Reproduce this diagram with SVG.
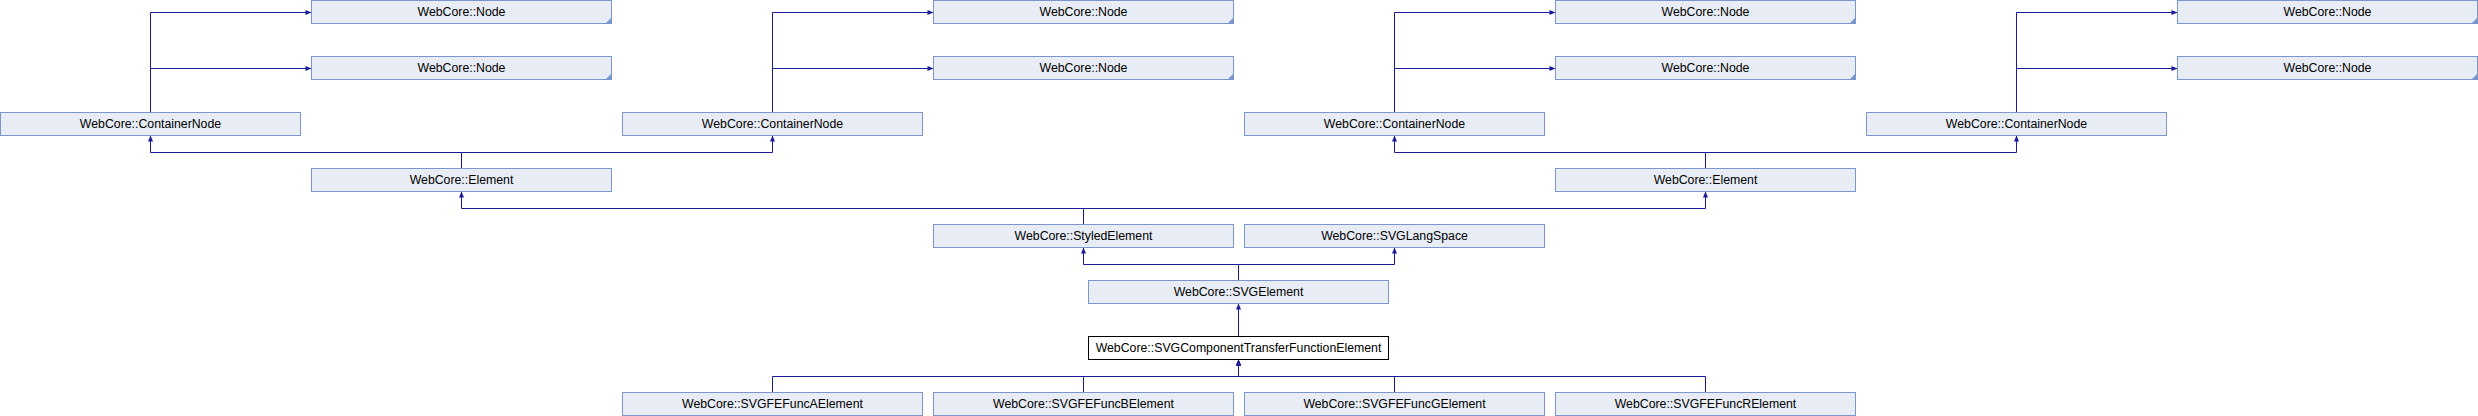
<svg xmlns="http://www.w3.org/2000/svg" width="2478" height="416" viewBox="0 0 2478 416">
<style>
.n rect{fill:#e8ecf5;stroke:#7b95cd;stroke-width:1}
.n.main rect{fill:#ffffff;stroke:#000000}
.n polygon{fill:#7b95cd}
.n text{font-family:"Liberation Sans",Arial,sans-serif;font-size:12.3px;fill:#000;text-anchor:middle}
#edges path{fill:none;stroke:#1a1a9a;stroke-width:1;marker-end:url(#arr)}
</style>
<defs>
<marker id="arr" markerUnits="userSpaceOnUse" markerWidth="7" markerHeight="6" refX="6" refY="2.5" orient="auto" overflow="visible">
<path d="M0,0 L6,2.5 L0,5 z" fill="#1a1a9a"/>
</marker>
</defs>
<rect x="0" y="0" width="2478" height="416" fill="#ffffff"/>
<g id="edges">
<path d="M150.5,112.5 V12.5 H311.5"/>
<path d="M150.5,112.5 V68.5 H311.5"/>
<path d="M772.5,112.5 V12.5 H933.5"/>
<path d="M772.5,112.5 V68.5 H933.5"/>
<path d="M1394.5,112.5 V12.5 H1555.5"/>
<path d="M1394.5,112.5 V68.5 H1555.5"/>
<path d="M2016.5,112.5 V12.5 H2177.5"/>
<path d="M2016.5,112.5 V68.5 H2177.5"/>
<path d="M461.5,168.5 V152.5 H150.5 V135.5"/>
<path d="M461.5,168.5 V152.5 H772.5 V135.5"/>
<path d="M1705.5,168.5 V152.5 H1394.5 V135.5"/>
<path d="M1705.5,168.5 V152.5 H2016.5 V135.5"/>
<path d="M1083.5,224.5 V208.5 H461.5 V191.5"/>
<path d="M1083.5,224.5 V208.5 H1705.5 V191.5"/>
<path d="M1238.5,280.5 V264.5 H1083.5 V247.5"/>
<path d="M1238.5,280.5 V264.5 H1394.5 V247.5"/>
<path d="M1238.5,336.5 V303.5"/>
<path d="M772.5,392.5 V376.5 H1238.5 V359.5"/>
<path d="M1083.5,392.5 V376.5 H1238.5 V359.5"/>
<path d="M1394.5,392.5 V376.5 H1238.5 V359.5"/>
<path d="M1705.5,392.5 V376.5 H1238.5 V359.5"/>
</g>
<g id="node1" class="n"><rect x="311.5" y="0.5" width="300" height="23"/><polygon points="611.5,17.5 611.5,23.5 605.5,23.5"/><text x="461.5" y="16">WebCore::Node</text></g>
<g id="node2" class="n"><rect x="311.5" y="56.5" width="300" height="23"/><polygon points="611.5,73.5 611.5,79.5 605.5,79.5"/><text x="461.5" y="72">WebCore::Node</text></g>
<g id="node3" class="n"><rect x="933.5" y="0.5" width="300" height="23"/><polygon points="1233.5,17.5 1233.5,23.5 1227.5,23.5"/><text x="1083.5" y="16">WebCore::Node</text></g>
<g id="node4" class="n"><rect x="933.5" y="56.5" width="300" height="23"/><polygon points="1233.5,73.5 1233.5,79.5 1227.5,79.5"/><text x="1083.5" y="72">WebCore::Node</text></g>
<g id="node5" class="n"><rect x="1555.5" y="0.5" width="300" height="23"/><polygon points="1855.5,17.5 1855.5,23.5 1849.5,23.5"/><text x="1705.5" y="16">WebCore::Node</text></g>
<g id="node6" class="n"><rect x="1555.5" y="56.5" width="300" height="23"/><polygon points="1855.5,73.5 1855.5,79.5 1849.5,79.5"/><text x="1705.5" y="72">WebCore::Node</text></g>
<g id="node7" class="n"><rect x="2177.5" y="0.5" width="300" height="23"/><polygon points="2477.5,17.5 2477.5,23.5 2471.5,23.5"/><text x="2327.5" y="16">WebCore::Node</text></g>
<g id="node8" class="n"><rect x="2177.5" y="56.5" width="300" height="23"/><polygon points="2477.5,73.5 2477.5,79.5 2471.5,79.5"/><text x="2327.5" y="72">WebCore::Node</text></g>
<g id="containernode1" class="n"><rect x="0.5" y="112.5" width="300" height="23"/><text x="150.5" y="128">WebCore::ContainerNode</text></g>
<g id="containernode2" class="n"><rect x="622.5" y="112.5" width="300" height="23"/><text x="772.5" y="128">WebCore::ContainerNode</text></g>
<g id="containernode3" class="n"><rect x="1244.5" y="112.5" width="300" height="23"/><text x="1394.5" y="128">WebCore::ContainerNode</text></g>
<g id="containernode4" class="n"><rect x="1866.5" y="112.5" width="300" height="23"/><text x="2016.5" y="128">WebCore::ContainerNode</text></g>
<g id="element1" class="n"><rect x="311.5" y="168.5" width="300" height="23"/><text x="461.5" y="184">WebCore::Element</text></g>
<g id="element2" class="n"><rect x="1555.5" y="168.5" width="300" height="23"/><text x="1705.5" y="184">WebCore::Element</text></g>
<g id="styledelement" class="n"><rect x="933.5" y="224.5" width="300" height="23"/><text x="1083.5" y="240">WebCore::StyledElement</text></g>
<g id="svglangspace" class="n"><rect x="1244.5" y="224.5" width="300" height="23"/><text x="1394.5" y="240">WebCore::SVGLangSpace</text></g>
<g id="svgelement" class="n"><rect x="1088.5" y="280.5" width="300" height="23"/><text x="1238.5" y="296">WebCore::SVGElement</text></g>
<g id="svgcomponenttransferfunctionelement" class="n main"><rect x="1088.5" y="336.5" width="300" height="23"/><text x="1238.5" y="352">WebCore::SVGComponentTransferFunctionElement</text></g>
<g id="svgfefuncaelement" class="n"><rect x="622.5" y="392.5" width="300" height="23"/><text x="772.5" y="408">WebCore::SVGFEFuncAElement</text></g>
<g id="svgfefuncbelement" class="n"><rect x="933.5" y="392.5" width="300" height="23"/><text x="1083.5" y="408">WebCore::SVGFEFuncBElement</text></g>
<g id="svgfefuncgelement" class="n"><rect x="1244.5" y="392.5" width="300" height="23"/><text x="1394.5" y="408">WebCore::SVGFEFuncGElement</text></g>
<g id="svgfefuncrelement" class="n"><rect x="1555.5" y="392.5" width="300" height="23"/><text x="1705.5" y="408">WebCore::SVGFEFuncRElement</text></g>
</svg>
